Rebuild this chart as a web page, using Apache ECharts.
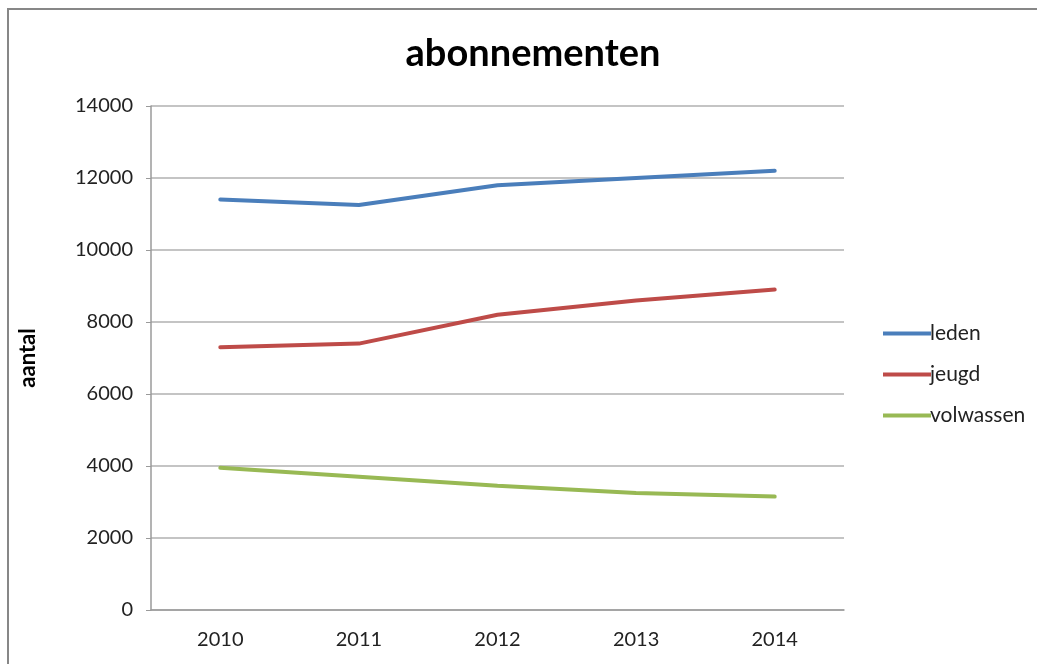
<!DOCTYPE html>
<html><head><meta charset="utf-8">
<script src="https://cdn.jsdelivr.net/npm/echarts@6/dist/echarts.min.js"></script>
<style>html,body{margin:0;padding:0;background:#fff}#c{width:1037px;height:664px}</style>
</head><body><div id="c"></div>
<script>
const categories = ['2010','2011','2012','2013','2014'];
const leden = [11400, 11250, 11800, 12000, 12200];
const jeugd = [7300, 7400, 8200, 8600, 8900];
const volwassen = [3950, 3700, 3450, 3250, 3150];
const yTicks = [0, 2000, 4000, 6000, 8000, 10000, 12000, 14000];

const font = 'Lato, "Open Sans", sans-serif';
const chart = echarts.init(document.getElementById('c'));
const mk = (name, data, color) => ({
  name, type: 'line', data, symbol: 'none', smooth: false,
  lineStyle: {color, width: 4, cap: 'round'}, itemStyle: {color}
});
chart.setOption({
  animation: false,
  graphic: [{type: 'rect', shape: {x: 8, y: 9, width: 1040, height: 680},
    style: {fill: 'none', stroke: '#878787', lineWidth: 2}, silent: true}],
  title: {text: 'abonnementen', left: 528, top: 30, textAlign: 'center',
    textStyle: {fontFamily: font, fontWeight: 'bold', fontSize: 38, color: '#000'}},
  legend: {orient: 'vertical', left: 878, top: 318, itemGap: 20, itemWidth: 48, itemHeight: 4,
    icon: 'rect', textStyle: {fontFamily: font, fontSize: 21, color: '#222', padding: [0,0,0,-6]},
    data: ['leden','jeugd','volwassen']},
  grid: {left: 151, top: 106, width: 693, height: 504, containLabel: false, outerBoundsMode: 'none'},
  xAxis: {type: 'category', data: categories, boundaryGap: true,
    axisLine: {lineStyle: {color: '#9a9a9a', width: 1.5}},
    axisTick: {show: false},
    axisLabel: {fontFamily: font, fontSize: 20, color: '#222', margin: 20}},
  yAxis: {type: 'value', min: 0, max: 14000, interval: 2000,
    name: 'aantal', nameLocation: 'middle', nameGap: 112, nameRotate: 90,
    nameTextStyle: {fontFamily: font, fontWeight: 'bold', fontSize: 22, color: '#000'},
    axisLine: {show: true, lineStyle: {color: '#9a9a9a', width: 1.5}},
    axisTick: {show: true, inside: false, length: 5, lineStyle: {color: '#9a9a9a'}},
    splitLine: {lineStyle: {color: '#b0b0b0', width: 1.5}},
    axisLabel: {fontFamily: font, fontSize: 20, color: '#222', margin: 18,
      formatter: v => yTicks.includes(v) ? String(v) : ''}},
  series: [mk('leden', leden, '#4a7ebb'), mk('jeugd', jeugd, '#be4b48'), mk('volwassen', volwassen, '#98b954')]
});
</script></body></html>
